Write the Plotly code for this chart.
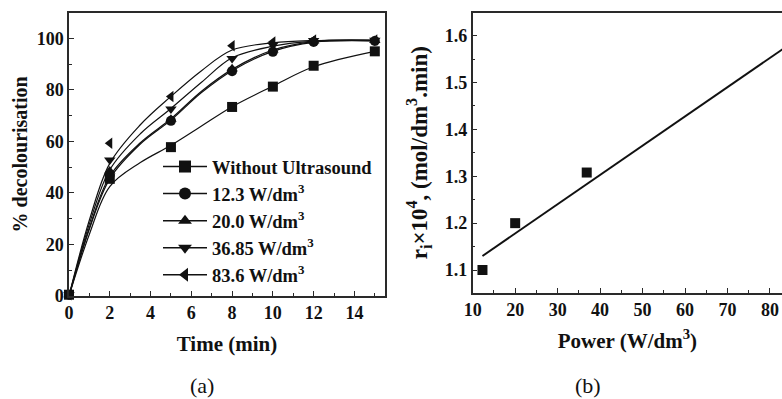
import plotly.graph_objects as go

# ---- Panel (a) data: measured points ----
time_min = [0, 2, 5, 8, 10, 12, 15]
without_us = [0.5, 45.5, 57.8, 73.4, 81.3, 89.4, 95.0]
p_12_3 = [0.5, 47.0, 68.0, 87.3, 94.8, 98.6, 99.0]
p_20_0 = [0.5, 48.5, 68.6, 88.2, 95.5, 99.0, 99.2]
p_36_85 = [0.5, 52.8, 72.6, 92.2, 97.5, 99.2, 99.3]
p_83_6 = [0.5, 59.3, 77.5, 97.2, 98.6, 99.4, 99.4]

# ---- Panel (a) fitted curves ----
fit_time = [0, 1, 2, 3.5, 5, 6.5, 8, 10, 12, 15]
fit_without_us = [0, 24.0, 42.5, 51.8, 58.5, 66.0, 73.5, 81.5, 89.0, 95.0]
fit_12_3 = [0, 26.0, 45.5, 59.0, 68.3, 79.0, 87.5, 95.0, 98.5, 99.0]
fit_20_0 = [0, 26.5, 46.5, 59.5, 68.8, 79.5, 88.0, 95.5, 98.8, 99.2]
fit_36_85 = [0, 28.0, 49.0, 63.0, 72.8, 83.0, 92.5, 97.0, 99.0, 99.3]
fit_83_6 = [0, 29.5, 51.5, 66.5, 77.5, 87.5, 95.5, 98.3, 99.2, 99.4]

series_names = ["Without Ultrasound", "12.3 W/dm<sup>3</sup>", "20.0 W/dm<sup>3</sup>",
                "36.85 W/dm<sup>3</sup>", "83.6 W/dm<sup>3</sup>"]
series_values = [without_us, p_12_3, p_20_0, p_36_85, p_83_6]
series_fits = [fit_without_us, fit_12_3, fit_20_0, fit_36_85, fit_83_6]
series_symbols = ["square", "circle", "triangle-up", "triangle-down", "triangle-left"]

# ---- Panel (b) data ----
power = [12.3, 20.0, 36.85, 83.6]
rate = [1.100, 1.200, 1.308, 1.575]
fit_power = [12.3, 83.6]
fit_rate = [1.130, 1.575]

FONT = "Liberation Serif"
INK = "#111111"
FRAME = "#2a2a2a"

fig = go.Figure()

for i, (name, vals, fit, sym) in enumerate(zip(series_names, series_values, series_fits, series_symbols)):
    # fitted curve
    fig.add_trace(go.Scatter(
        x=fit_time, y=fit, mode="lines",
        line=dict(color=INK, width=1.2, shape="spline", smoothing=1.0),
        showlegend=False, xaxis="x", yaxis="y",
    ))
    # measured points
    fig.add_trace(go.Scatter(
        x=time_min, y=vals, mode="markers",
        marker=dict(symbol=sym, size=10, color=INK),
        showlegend=False, cliponaxis=False, xaxis="x", yaxis="y",
    ))
    # legend entry (line + marker)
    fig.add_trace(go.Scatter(
        x=[None], y=[None], mode="lines+markers", name=name,
        line=dict(color=INK, width=1.5),
        marker=dict(symbol=sym, size=12, color=INK),
        legendgroup=f"g{i}", showlegend=True, xaxis="x", yaxis="y",
    ))

fig.add_trace(go.Scatter(
    x=fit_power, y=fit_rate, mode="lines",
    line=dict(color=INK, width=2), showlegend=False,
    xaxis="x2", yaxis="y2",
))
fig.add_trace(go.Scatter(
    x=power, y=rate, mode="markers",
    marker=dict(symbol="square", size=10, color=INK),
    showlegend=False, cliponaxis=False,
    xaxis="x2", yaxis="y2",
))

W, H = 782, 399
def px_x(p):
    return p / W
def px_y(p):
    return 1 - p / H

tickfont = dict(family=FONT, size=18, color=INK, weight="bold")
titlefont = dict(family=FONT, size=21, color=INK, weight="bold")

axis_common = dict(
    showline=True, linecolor=FRAME, linewidth=1.5,
    ticks="inside", ticklen=5, tickwidth=1.2, tickcolor=FRAME,
    showgrid=False, zeroline=False, tickfont=tickfont,
    automargin=False,
)

fig.update_layout(
    width=W, height=H,
    margin=dict(l=0, r=0, t=0, b=0),
    paper_bgcolor="white", plot_bgcolor="white",
    font=dict(family=FONT, color=INK),
    xaxis=dict(domain=[px_x(69), px_x(385)], range=[0, 15.5], anchor="y",
               tickvals=[0, 2, 4, 6, 8, 10, 12, 14], mirror=True,
               minor=dict(dtick=1, tick0=0, ticks="inside", ticklen=3, tickcolor=FRAME),
               title=dict(text="Time (min)", font=titlefont, standoff=14),
               **axis_common),
    yaxis=dict(domain=[px_y(296), px_y(12.7)], range=[0, 110], anchor="x",
               tickvals=[0, 20, 40, 60, 80, 100], mirror=True,
               minor=dict(dtick=10, tick0=0, ticks="inside", ticklen=3, tickcolor=FRAME),
               title=dict(text="% decolourisation", font=dict(family=FONT, size=20, color=INK, weight="bold"),
                          standoff=4),
               **axis_common),
    xaxis2=dict(domain=[px_x(472.7), 1.0], range=[10, 82.83], anchor="y2",
                tickvals=[10, 20, 30, 40, 50, 60, 70, 80], mirror=True,
                minor=dict(dtick=5, tick0=10, ticks="inside", ticklen=3, tickcolor=FRAME),
                title=dict(text="Power (W/dm<sup>3</sup>)", font=titlefont, standoff=14),
                **axis_common),
    yaxis2=dict(domain=[px_y(292.7), px_y(12.7)], range=[1.0516, 1.649], anchor="x2",
                tickvals=[1.1, 1.2, 1.3, 1.4, 1.5, 1.6], mirror=False,
                minor=dict(dtick=0.05, tick0=1.05, ticks="inside", ticklen=3, tickcolor=FRAME),
                title=dict(text="r<sub>i</sub>×10<sup>4</sup>, (mol/dm<sup>3</sup>.min)",
                           font=dict(family=FONT, size=23, color=INK, weight="bold"), standoff=11),
                **axis_common),
    legend=dict(x=px_x(158), y=px_y(148), xanchor="left", yanchor="top",
                bgcolor="rgba(0,0,0,0)", borderwidth=0, itemwidth=44,
                font=dict(family=FONT, size=18.5, color=INK, weight="bold"),
                traceorder="grouped", tracegroupgap=0),
    showlegend=True,
    annotations=[
        dict(text="(a)", x=px_x(202), y=px_y(385), xref="paper", yref="paper",
             xanchor="center", yanchor="middle",
             showarrow=False, font=dict(family=FONT, size=22, color=INK)),
        dict(text="(b)", x=px_x(588), y=px_y(385), xref="paper", yref="paper",
             xanchor="center", yanchor="middle",
             showarrow=False, font=dict(family=FONT, size=22, color=INK)),
    ],
)

fig.write_html("out.html")
